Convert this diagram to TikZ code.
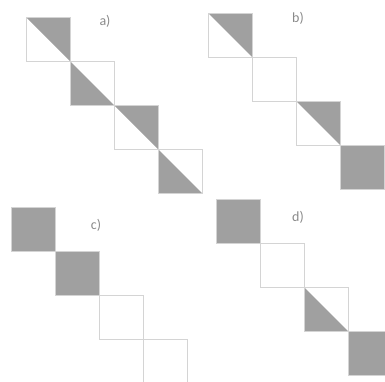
\documentclass[tikz,border=0pt]{standalone}
\usepackage{fontspec}
\setmainfont{Carlito}
\definecolor{shadegray}{HTML}{A0A0A0}
\definecolor{linegray}{HTML}{D4D4D4}
\definecolor{labelgray}{HTML}{8A8A8A}
\tikzset{
  frame/.style={draw=linegray, line width=0.9pt},
  shaded/.style={fill=shadegray},
  lab/.style={text=labelgray, font=\fontsize{14}{14}\selectfont, inner sep=0pt}
}
\begin{document}
\begin{tikzpicture}[x=1pt,y=-1pt]
\useasboundingbox (0,0) rectangle (385,381);
\clip (0,0) rectangle (385,381);
% type codes: 0 empty, 1 upper-right half, 2 lower-left half, 3 full
\foreach \x/\y/\t in {26/17/1, 70/61/2, 114/105/1, 158/149/2,
                      208/13/1, 252/57/0, 296/101/1, 340/145/3,
                      11/207/3, 55/251/3, 99/295/0, 143/339/0,
                      216/199/3, 260/243/0, 304/287/2, 348/331/3}{
  \ifnum\t=1 \fill[shaded] (\x,\y) -- ++(44,0) -- ++(0,44) -- cycle; \fi
  \ifnum\t=2 \fill[shaded] (\x,\y) -- ++(0,44) -- ++(44,0) -- cycle; \fi
  \ifnum\t=3 \fill[shaded] (\x,\y) rectangle ++(44,44); \fi
  \draw[frame] (\x,\y) rectangle ++(44,44);
}
\node[lab] (la) at (105,21) {a)};
\node[lab] (lb) at (298,18) {b)};
\node[lab] (lc) at (96,225) {c)};
\node[lab] (ld) at (298,217) {d)};
\end{tikzpicture}
\end{document}
